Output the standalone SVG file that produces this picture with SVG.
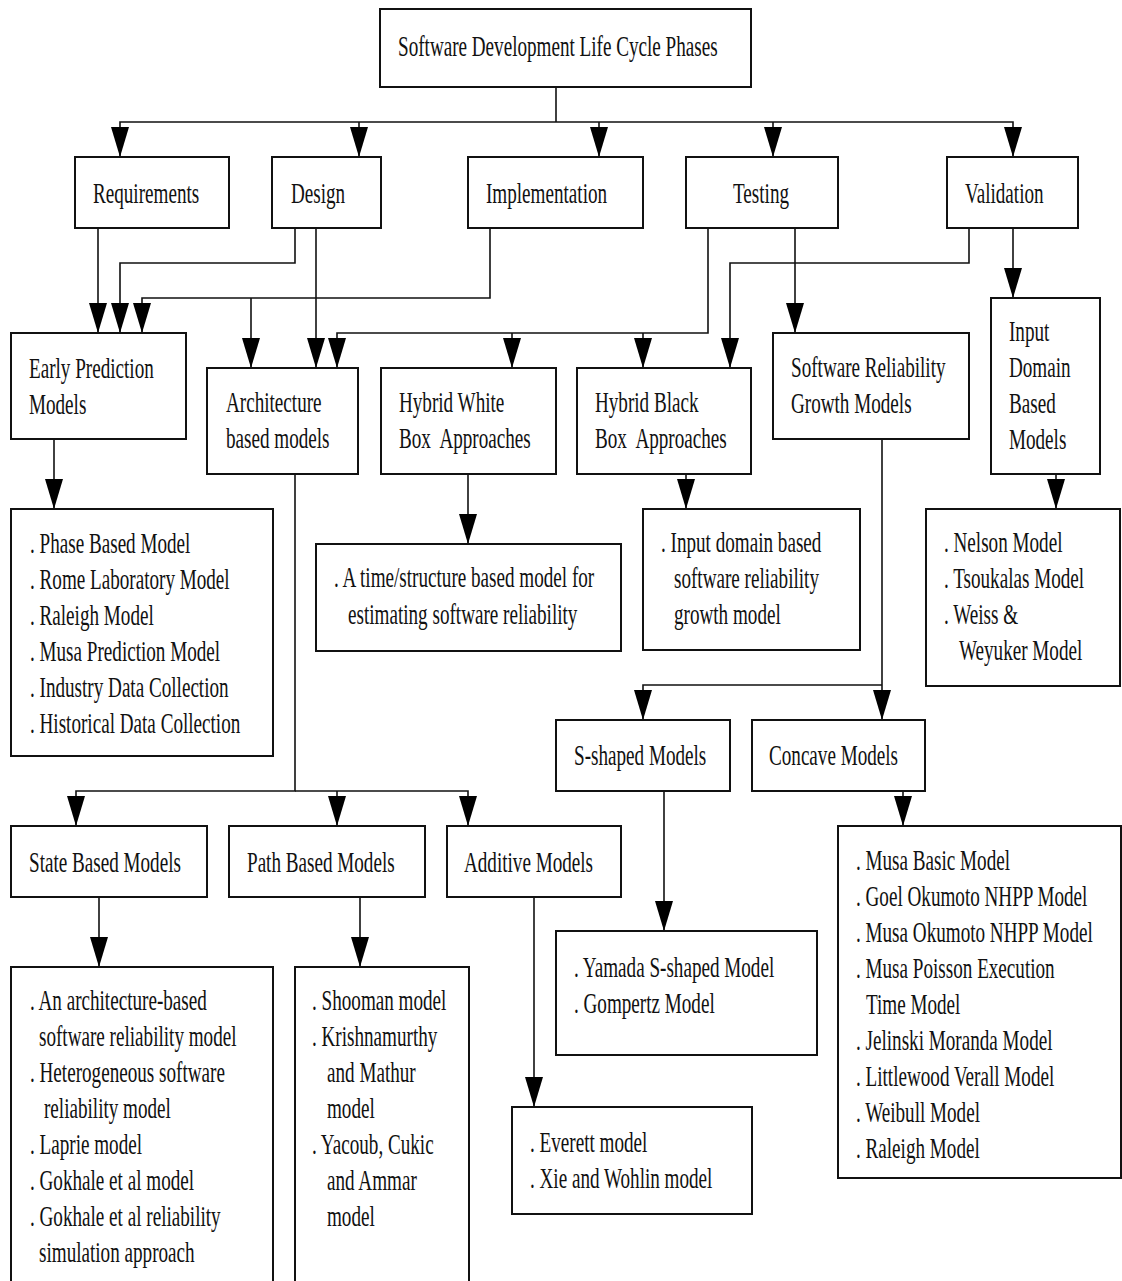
<svg xmlns="http://www.w3.org/2000/svg" width="1122" height="1281" viewBox="0 0 1122 1281">
<style>
  rect.box { fill: #fff; stroke: #111; stroke-width: 2; }
  text { font-family: "Liberation Serif", "Times New Roman", serif; font-size: 29px; fill: #111; white-space: pre; }
  .conn path { fill: none; stroke: #111; stroke-width: 1.6; marker-end: url(#ah); }
  .conn path.plain { marker-end: none; }
</style>
<defs>
  <marker id="ah" markerUnits="userSpaceOnUse" markerWidth="30" markerHeight="18" refX="30" refY="9" orient="auto">
    <path d="M0,0 L30,9 L0,18 z" fill="#000"/>
  </marker>
</defs>
<rect width="1122" height="1281" fill="#fff"/>

<g id="connectors" class="conn">
  <path class="plain" d="M556,87 V122"/>
  <path d="M556,122 H120 V157"/>
  <path d="M556,122 H1013 V157"/>
  <path d="M359,122 V157"/>
  <path d="M599,122 V157"/>
  <path d="M773,122 V157"/>
  <path d="M98,228 V333"/>
  <path d="M295,228 V263 H120 V333"/>
  <path d="M490,228 V298 H142 V333"/>
  <path d="M251,298 V368"/>
  <path d="M316,228 V368"/>
  <path d="M708,228 V333 H337 V368"/>
  <path d="M512,333 V368"/>
  <path d="M643,333 V368"/>
  <path d="M969,228 V263 H730 V368"/>
  <path d="M795,228 V333"/>
  <path d="M1013,228 V298"/>
  <path d="M54,439 V509"/>
  <path d="M295,474 V791 H76 V826"/>
  <path d="M295,791 H468 V826"/>
  <path d="M337,791 V826"/>
  <path d="M468,474 V544"/>
  <path d="M686,474 V509"/>
  <path d="M882,439 V720"/>
  <path d="M882,685 H643 V720"/>
  <path d="M1056,474 V509"/>
  <path d="M664,791 V931"/>
  <path d="M903,791 V826"/>
  <path d="M99,897 V967"/>
  <path d="M360,897 V967"/>
  <path d="M534,897 V1107"/>
</g>

<g id="sdlc">
  <rect class="box" x="380" y="9" width="371" height="78"/>
  <text transform="translate(398,56) scale(0.66,1)">Software Development Life Cycle Phases</text>
</g>
<g id="requirements">
  <rect class="box" x="75" y="157" width="154" height="71"/>
  <text transform="translate(93,203) scale(0.66,1)">Requirements</text>
</g>
<g id="design">
  <rect class="box" x="272" y="157" width="109" height="71"/>
  <text transform="translate(291,203) scale(0.66,1)">Design</text>
</g>
<g id="implementation">
  <rect class="box" x="468" y="157" width="175" height="71"/>
  <text transform="translate(486,203) scale(0.66,1)">Implementation</text>
</g>
<g id="testing">
  <rect class="box" x="686" y="157" width="152" height="71"/>
  <text transform="translate(733,203) scale(0.66,1)">Testing</text>
</g>
<g id="validation">
  <rect class="box" x="947" y="157" width="131" height="71"/>
  <text transform="translate(965,203) scale(0.66,1)">Validation</text>
</g>

<g id="early-prediction">
  <rect class="box" x="11" y="333" width="175" height="106"/>
  <text transform="translate(29,378) scale(0.66,1)">Early Prediction</text>
  <text transform="translate(29,414) scale(0.66,1)">Models</text>
</g>
<g id="architecture">
  <rect class="box" x="207" y="368" width="151" height="106"/>
  <text transform="translate(226,412) scale(0.66,1)">Architecture</text>
  <text transform="translate(226,448) scale(0.66,1)">based models</text>
</g>
<g id="hybrid-white">
  <rect class="box" x="381" y="368" width="175" height="106"/>
  <text transform="translate(399,412) scale(0.66,1)">Hybrid White</text>
  <text transform="translate(399,448) scale(0.66,1)">Box  Approaches</text>
</g>
<g id="hybrid-black">
  <rect class="box" x="577" y="368" width="174" height="106"/>
  <text transform="translate(595,412) scale(0.66,1)">Hybrid Black</text>
  <text transform="translate(595,448) scale(0.66,1)">Box  Approaches</text>
</g>
<g id="srgm">
  <rect class="box" x="773" y="333" width="196" height="106"/>
  <text transform="translate(791,377) scale(0.66,1)">Software Reliability</text>
  <text transform="translate(791,413) scale(0.66,1)">Growth Models</text>
</g>
<g id="input-domain">
  <rect class="box" x="991" y="298" width="109" height="176"/>
  <text transform="translate(1009,341) scale(0.66,1)">Input</text>
  <text transform="translate(1009,377) scale(0.66,1)">Domain</text>
  <text transform="translate(1009,413) scale(0.66,1)">Based</text>
  <text transform="translate(1009,449) scale(0.66,1)">Models</text>
</g>

<g id="early-list">
  <rect class="box" x="11" y="509" width="262" height="247"/>
  <text transform="translate(30,553) scale(0.66,1)">. Phase Based Model</text>
  <text transform="translate(30,589) scale(0.66,1)">. Rome Laboratory Model</text>
  <text transform="translate(30,625) scale(0.66,1)">. Raleigh Model</text>
  <text transform="translate(30,661) scale(0.66,1)">. Musa Prediction Model</text>
  <text transform="translate(30,697) scale(0.66,1)">. Industry Data Collection</text>
  <text transform="translate(30,733) scale(0.66,1)">. Historical Data Collection</text>
</g>
<g id="white-list">
  <rect class="box" x="316" y="544" width="305" height="107"/>
  <text transform="translate(334,587) scale(0.66,1)">. A time/structure based model for</text>
  <text transform="translate(348,624) scale(0.66,1)">estimating software reliability</text>
</g>
<g id="black-list">
  <rect class="box" x="643" y="509" width="217" height="141"/>
  <text transform="translate(661,552) scale(0.66,1)">. Input domain based</text>
  <text transform="translate(674,588) scale(0.66,1)">software reliability</text>
  <text transform="translate(674,624) scale(0.66,1)">growth model</text>
</g>
<g id="input-list">
  <rect class="box" x="926" y="509" width="194" height="177"/>
  <text transform="translate(944,552) scale(0.66,1)">. Nelson Model</text>
  <text transform="translate(944,588) scale(0.66,1)">. Tsoukalas Model</text>
  <text transform="translate(944,624) scale(0.66,1)">. Weiss &amp;</text>
  <text transform="translate(959,660) scale(0.66,1)">Weyuker Model</text>
</g>

<g id="s-shaped">
  <rect class="box" x="556" y="720" width="174" height="71"/>
  <text transform="translate(574,765) scale(0.66,1)">S-shaped Models</text>
</g>
<g id="concave">
  <rect class="box" x="752" y="720" width="173" height="71"/>
  <text transform="translate(769,765) scale(0.66,1)">Concave Models</text>
</g>

<g id="state-based">
  <rect class="box" x="11" y="826" width="196" height="71"/>
  <text transform="translate(29,872) scale(0.66,1)">State Based Models</text>
</g>
<g id="path-based">
  <rect class="box" x="229" y="826" width="196" height="71"/>
  <text transform="translate(247,872) scale(0.66,1)">Path Based Models</text>
</g>
<g id="additive">
  <rect class="box" x="447" y="826" width="174" height="71"/>
  <text transform="translate(464,872) scale(0.66,1)">Additive Models</text>
</g>

<g id="s-shaped-list">
  <rect class="box" x="556" y="931" width="261" height="124"/>
  <text transform="translate(574,977) scale(0.66,1)">. Yamada S-shaped Model</text>
  <text transform="translate(574,1013) scale(0.66,1)">. Gompertz Model</text>
</g>
<g id="additive-list">
  <rect class="box" x="512" y="1107" width="240" height="107"/>
  <text transform="translate(530,1152) scale(0.66,1)">. Everett model</text>
  <text transform="translate(530,1188) scale(0.66,1)">. Xie and Wohlin model</text>
</g>
<g id="concave-list">
  <rect class="box" x="838" y="826" width="283" height="352"/>
  <text transform="translate(856,870) scale(0.66,1)">. Musa Basic Model</text>
  <text transform="translate(856,906) scale(0.66,1)">. Goel Okumoto NHPP Model</text>
  <text transform="translate(856,942) scale(0.66,1)">. Musa Okumoto NHPP Model</text>
  <text transform="translate(856,978) scale(0.66,1)">. Musa Poisson Execution</text>
  <text transform="translate(866,1014) scale(0.66,1)">Time Model</text>
  <text transform="translate(856,1050) scale(0.66,1)">. Jelinski Moranda Model</text>
  <text transform="translate(856,1086) scale(0.66,1)">. Littlewood Verall Model</text>
  <text transform="translate(856,1122) scale(0.66,1)">. Weibull Model</text>
  <text transform="translate(856,1158) scale(0.66,1)">. Raleigh Model</text>
</g>
<g id="state-list">
  <rect class="box" x="11" y="967" width="262" height="330"/>
  <text transform="translate(30,1010) scale(0.66,1)">. An architecture-based</text>
  <text transform="translate(39,1046) scale(0.66,1)">software reliability model</text>
  <text transform="translate(30,1082) scale(0.66,1)">. Heterogeneous software</text>
  <text transform="translate(44,1118) scale(0.66,1)">reliability model</text>
  <text transform="translate(30,1154) scale(0.66,1)">. Laprie model</text>
  <text transform="translate(30,1190) scale(0.66,1)">. Gokhale et al model</text>
  <text transform="translate(30,1226) scale(0.66,1)">. Gokhale et al reliability</text>
  <text transform="translate(39,1262) scale(0.66,1)">simulation approach</text>
</g>
<g id="path-list">
  <rect class="box" x="295" y="967" width="174" height="330"/>
  <text transform="translate(312,1010) scale(0.66,1)">. Shooman model</text>
  <text transform="translate(312,1046) scale(0.66,1)">. Krishnamurthy</text>
  <text transform="translate(327,1082) scale(0.66,1)">and Mathur</text>
  <text transform="translate(327,1118) scale(0.66,1)">model</text>
  <text transform="translate(312,1154) scale(0.66,1)">. Yacoub, Cukic</text>
  <text transform="translate(327,1190) scale(0.66,1)">and Ammar</text>
  <text transform="translate(327,1226) scale(0.66,1)">model</text>
</g>
</svg>
